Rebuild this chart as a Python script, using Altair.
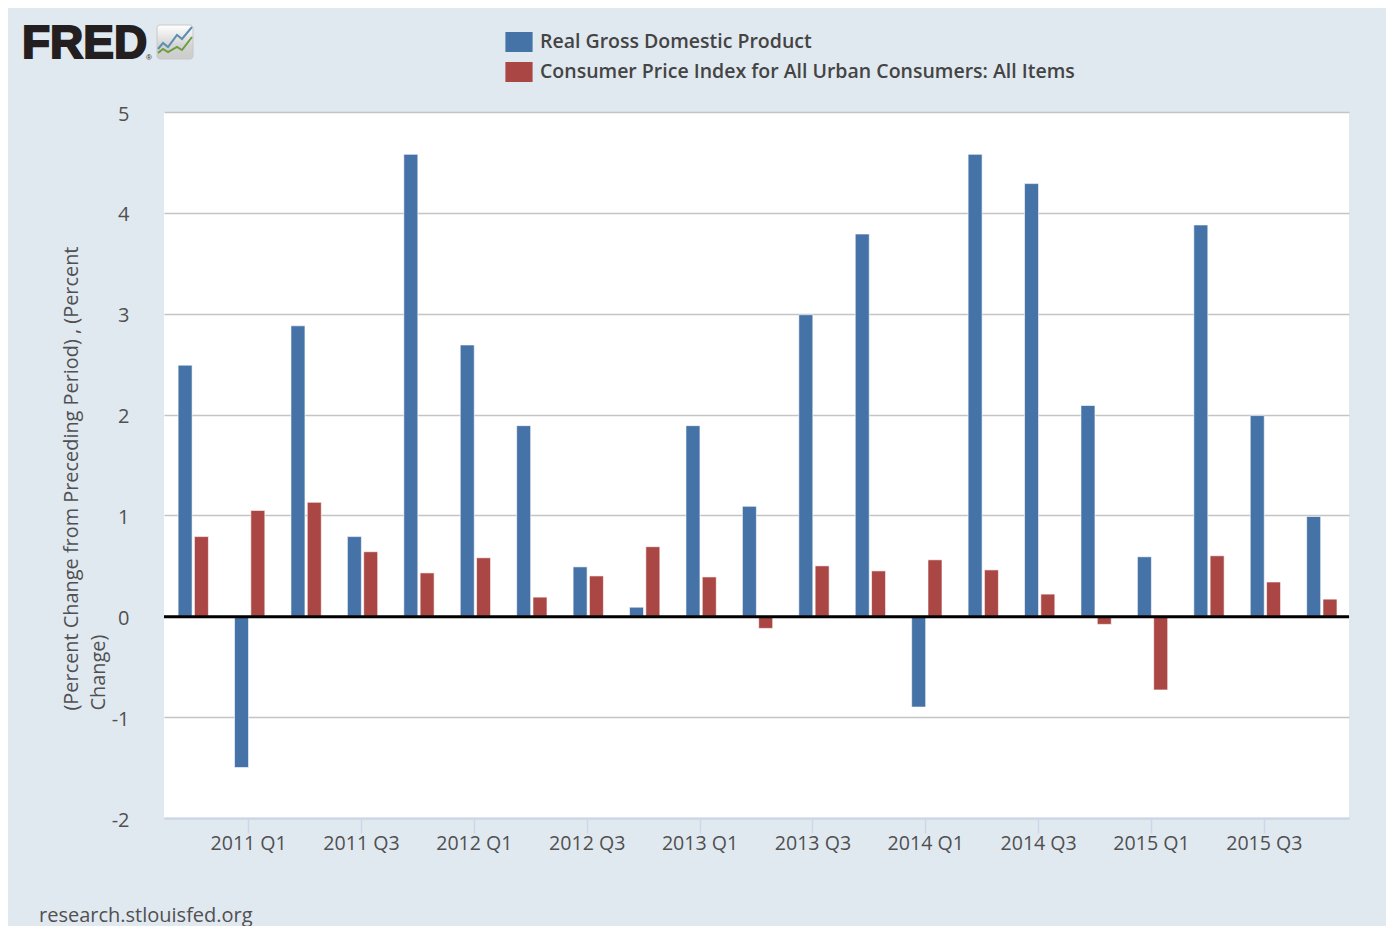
import altair as alt
import pandas as pd

quarters = ["2010 Q4","2011 Q1","2011 Q2","2011 Q3","2011 Q4","2012 Q1","2012 Q2","2012 Q3","2012 Q4",
            "2013 Q1","2013 Q2","2013 Q3","2013 Q4","2014 Q1","2014 Q2","2014 Q3","2014 Q4",
            "2015 Q1","2015 Q2","2015 Q3","2015 Q4"]
gdp = [2.49,-1.5,2.88,0.79,4.58,2.69,1.89,0.49,0.09,1.89,1.09,2.99,3.79,-0.9,4.58,4.29,2.09,0.59,3.88,1.99,0.99]
cpi = [0.79,1.05,1.13,0.64,0.43,0.58,0.19,0.40,0.69,0.39,-0.12,0.50,0.45,0.56,0.46,0.22,-0.08,-0.73,0.60,0.34,0.17]
tick_labels = ["2011 Q1","2011 Q3","2012 Q1","2012 Q3","2013 Q1","2013 Q3","2014 Q1","2014 Q3","2015 Q1","2015 Q3"]
y_ticks = [-2,-1,0,1,2,3,4,5]
S1 = "Real Gross Domestic Product"
S2 = "Consumer Price Index for All Urban Consumers: All Items"

# logo sparkline, image-space readings
icon_x = [158,163,168,177,182,192]
icon_blue = [49,43,47,35,39,27]
icon_green = [53,49,52,47,50,37]

rows = [{"q":q,"series":S1,"v":v} for q,v in zip(quarters,gdp)] + \
       [{"q":q,"series":S2,"v":v} for q,v in zip(quarters,cpi)]
df = pd.DataFrame(rows)

FONT = "Open Sans"
TXT = "#505050"

xs = alt.X("q:N", sort=quarters, title=None,
           scale=alt.Scale(domain=quarters, paddingInner=0, paddingOuter=0),
           axis=alt.Axis(values=tick_labels, labelAngle=0, labelFont=FONT, labelFontSize=19.6, labelColor=TXT,
                         labelPadding=1, tickColor="#ccd6eb", tickSize=15, tickWidth=1.5,
                         domainColor="#ccd6eb", domainWidth=2, grid=False))
ys = alt.Y("v:Q", title=["(Percent Change from Preceding Period) , (Percent", "Change)"],
           scale=alt.Scale(domain=[-2,5], nice=False, zero=False),
           axis=alt.Axis(values=y_ticks, labelFont=FONT, labelFontSize=20, labelColor=TXT, labelPadding=35,
                         labelOffset=2, labelExpr="toString(datum.value)",
                         ticks=False, domain=False, grid=True, gridColor="#c4c4c4", gridWidth=1.5,
                         titleFont=FONT, titleFontSize=19.9, titleFontWeight="normal", titleColor=TXT,
                         titleLineHeight=27, titlePadding=3, titleAlign="left", titleY=598))

bars = alt.Chart(df).mark_bar(size=14, stroke="white", strokeWidth=1, strokeOpacity=0.6).encode(
    x=xs, y=ys,
    xOffset=alt.XOffset("series:N", sort=[S1,S2],
                        scale=alt.Scale(domain=[S1,S2], paddingInner=0.14, paddingOuter=0.8, align=0.54)),
    color=alt.Color("series:N", sort=[S1,S2],
                    scale=alt.Scale(domain=[S1,S2], range=["#4572a7","#aa4643"]),
                    legend=alt.Legend(title=None, orient="none", legendX=335, legendY=-90,
                                      labelFont=FONT, labelFontSize=19.5, labelFontWeight=600, labelColor="#444444",
                                      symbolType="M-0.68,-0.5L0.68,-0.5L0.68,0.5L-0.68,0.5Z", symbolSize=1600,
                                      symbolStrokeWidth=0, rowPadding=-4, labelOffset=1, labelLimit=700)),
)

zero = alt.Chart(pd.DataFrame({"v":[0]})).mark_rule(color="black", strokeWidth=3, yOffset=0.5).encode(
    y=alt.Y("v:Q", scale=alt.Scale(domain=[-2,5], nice=False, zero=False), axis=None))

px = alt.Scale(domain=[164,1349], range=[0,1185], nice=False, zero=False)
py = alt.Scale(domain=[112,818], range=[0,706], nice=False, zero=False)

icon_fill = alt.Gradient(gradient="linear", x1=0, x2=0, y1=0, y2=1,
                         stops=[alt.GradientStop(color="#ffffff", offset=0),
                                alt.GradientStop(color="#d4d4d4", offset=0.6),
                                alt.GradientStop(color="#cccccc", offset=1)])
icon_bg = alt.Chart(pd.DataFrame({"a":[157],"b":[193],"c":[25],"d":[59]})).mark_rect(
    fill=icon_fill, stroke="#c8c8c8", cornerRadius=3).encode(
    x=alt.X("a:Q", scale=px, axis=None), x2="b:Q", y=alt.Y("c:Q", scale=py, axis=None), y2="d:Q")
def spark(vals, color):
    d = pd.DataFrame({"x":icon_x,"y":vals})
    return alt.Chart(d).mark_line(color=color, strokeWidth=2, clip=False).encode(
        x=alt.X("x:Q", scale=px, axis=None), y=alt.Y("y:Q", scale=py, axis=None))

logo = alt.Chart(pd.DataFrame({"t":["FRED"]})).mark_text(
    font="Liberation Sans", fontWeight="bold", fontSize=46, align="left", baseline="alphabetic",
    color="#231f20", stroke="#231f20", strokeWidth=2).encode(
    x=alt.value(22-164), y=alt.value(58-112), text="t:N")
reg = alt.Chart(pd.DataFrame({"t":["®"]})).mark_text(
    font="Liberation Sans", fontSize=8, align="left", baseline="alphabetic", color="#231f20").encode(
    x=alt.value(146-164), y=alt.value(60-112), text="t:N")
footer = alt.Chart(pd.DataFrame({"t":["research.stlouisfed.org"]})).mark_text(
    font=FONT, fontSize=20, align="left", baseline="alphabetic", color=TXT).encode(
    x=alt.value(39-164), y=alt.value(922-112), text="t:N")

chart = alt.layer(bars, zero, icon_bg, spark(icon_blue,"#5b8fb0"), spark(icon_green,"#6a9e3f"), logo, reg, footer
    ).resolve_scale(x="independent", y="independent", color="independent"
    ).properties(width=1185, height=706, background="#e1e9f0",
                 padding={"left":156,"top":104,"right":37,"bottom":108},
                 autosize=alt.AutoSizeParams(type="none")
    ).configure_view(fill="white", stroke=None)

chart.save("out.html", embed_options={"renderer":"svg","actions":False})
